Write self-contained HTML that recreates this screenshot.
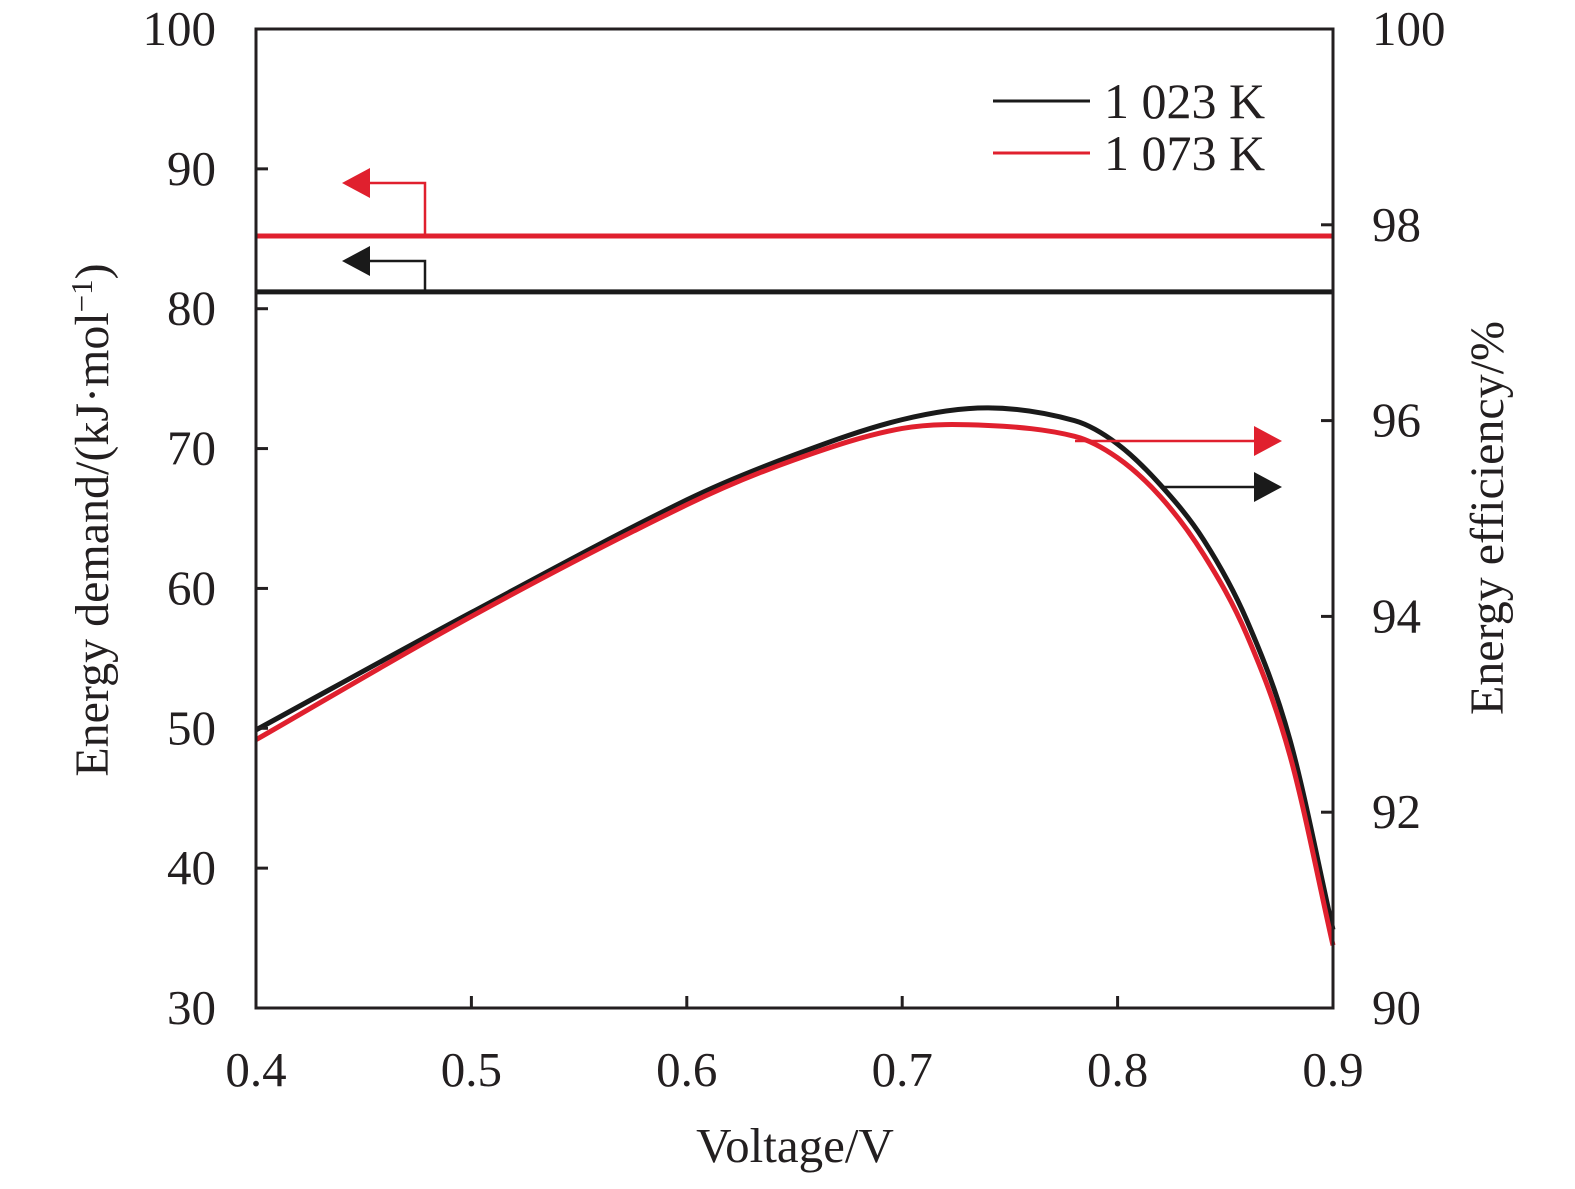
<!DOCTYPE html>
<html><head><meta charset="utf-8"><style>
body{margin:0;background:#fff}
svg text{font-family:"Liberation Serif",serif;fill:#231f20}
</style></head><body>
<svg width="1575" height="1184" viewBox="0 0 1575 1184">
<g id="g"></g>
</svg>
<script>
const voltages=[0.4,0.5,0.6,0.65,0.7,0.74,0.78,0.8,0.82,0.84,0.86,0.88,0.9];
const eff1023=[92.84,94.04,95.19,95.65,96.01,96.13,96.0,95.76,95.34,94.78,93.96,92.74,90.80];
const eff1073=[92.74,94.0,95.14,95.6,95.92,95.95,95.84,95.62,95.22,94.63,93.81,92.58,90.64];
const demand1023=81.2;
const demand1073=85.2;
const xTicks=[0.4,0.5,0.6,0.7,0.8,0.9];
const yLeftTicks=[30,40,50,60,70,80,90,100];
const yRightTicks=[90,92,94,96,98,100];
const L=256,R=1333,T=29,B=1008;
const X=v=>L+(v-0.4)/0.5*(R-L);
const YL=v=>B-(v-30)/70*(B-T);
const YR=v=>B-(v-90)/10*(B-T);
const g=document.getElementById('g');
const NS='http://www.w3.org/2000/svg';
function mk(t,a,txt){const e=document.createElementNS(NS,t);for(const k in a)e.setAttribute(k,a[k]);if(txt!==undefined)e.textContent=txt;g.appendChild(e);return e;}
function path(xs,ys){const n=xs.length;const m=xs.map((x,i)=>{const a=Math.max(0,i-1),b=Math.min(n-1,i+1);return (ys[b]-ys[a])/(xs[b]-xs[a]);});
let d='M'+X(xs[0])+','+YR(ys[0]);
for(let i=0;i<n-1;i++){const dx=(xs[i+1]-xs[i])/3;
d+=' C'+X(xs[i]+dx)+','+YR(ys[i]+m[i]*dx)+' '+X(xs[i+1]-dx)+','+YR(ys[i+1]-m[i+1]*dx)+' '+X(xs[i+1])+','+YR(ys[i+1]);}return d;}
let e;
e=mk('line',{x1:L,x2:R,y1:YL(demand1073),y2:YL(demand1073),stroke:'#e0202e','stroke-width':5});


e=mk('line',{x1:L,x2:R,y1:YL(demand1023),y2:YL(demand1023),stroke:'#1a1a1a','stroke-width':5});


e=mk('path',{d:path(voltages,eff1023),fill:'none',stroke:'#1a1a1a','stroke-width':5});


e=mk('path',{d:path(voltages,eff1073),fill:'none',stroke:'#e0202e','stroke-width':5});


e=mk('rect',{x:L,y:T,width:R-L,height:B-T,fill:'none',stroke:'#231f20','stroke-width':3});


xTicks.forEach(v=>{
e=mk('line',{x1:X(v),x2:X(v),y1:B,y2:B-12,stroke:'#231f20','stroke-width':3});


e=mk('text',{x:X(v),y:1086,'text-anchor':'middle','font-size':49},v.toFixed(1));

});
yLeftTicks.forEach(v=>{
e=mk('line',{x1:L,x2:L+12,y1:YL(v),y2:YL(v),stroke:'#231f20','stroke-width':3});


e=mk('text',{x:216,y:YL(v)+16,'text-anchor':'end','font-size':49},v);

});
yRightTicks.forEach(v=>{
e=mk('line',{x1:R,x2:R-12,y1:YR(v),y2:YR(v),stroke:'#231f20','stroke-width':3});


e=mk('text',{x:1372,y:YR(v)+16,'text-anchor':'start','font-size':49},v);

});
e=mk('text',{x:795,y:1162,'text-anchor':'middle','font-size':49},'Voltage/V');


e=mk('text',{x:0,y:0,'text-anchor':'middle','font-size':48,transform:'translate(108,520) rotate(-90)'});
e.innerHTML='Energy demand/(kJ·mol<tspan font-size="31" dy="-16">−1</tspan><tspan dy="16">)</tspan>';


e=mk('text',{x:0,y:0,'text-anchor':'middle','font-size':48,transform:'translate(1503,518) rotate(-90)'},'Energy efficiency/%');


function arrow(pts,tip,dir,col,name){
e=mk('polyline',{points:pts,fill:'none',stroke:col,'stroke-width':2.5});


const [tx,ty]=tip;const b=tx+dir*28;
e=mk('polygon',{points:`${tx},${ty} ${b},${ty-15} ${b},${ty+15}`,fill:col});

}
arrow(`425,${YL(demand1073)} 425,183 368,183`,[342,183],1,'#e0202e','left-arrow-1073');
arrow(`425,${YL(demand1023)} 425,261 368,261`,[342,261],1,'#1a1a1a','left-arrow-1023');
arrow(`1075,441 1256,441`,[1282,441],-1,'#e0202e','right-arrow-1073');
arrow(`1160,487 1256,487`,[1282,487],-1,'#1a1a1a','right-arrow-1023');
e=mk('line',{x1:993,x2:1090,y1:101,y2:101,stroke:'#1a1a1a','stroke-width':3});


e=mk('text',{x:1104,y:118,'font-size':50},'1 023 K');


e=mk('line',{x1:993,x2:1090,y1:153,y2:153,stroke:'#e0202e','stroke-width':3});


e=mk('text',{x:1104,y:170,'font-size':50},'1 073 K');


</script>
</body></html>
